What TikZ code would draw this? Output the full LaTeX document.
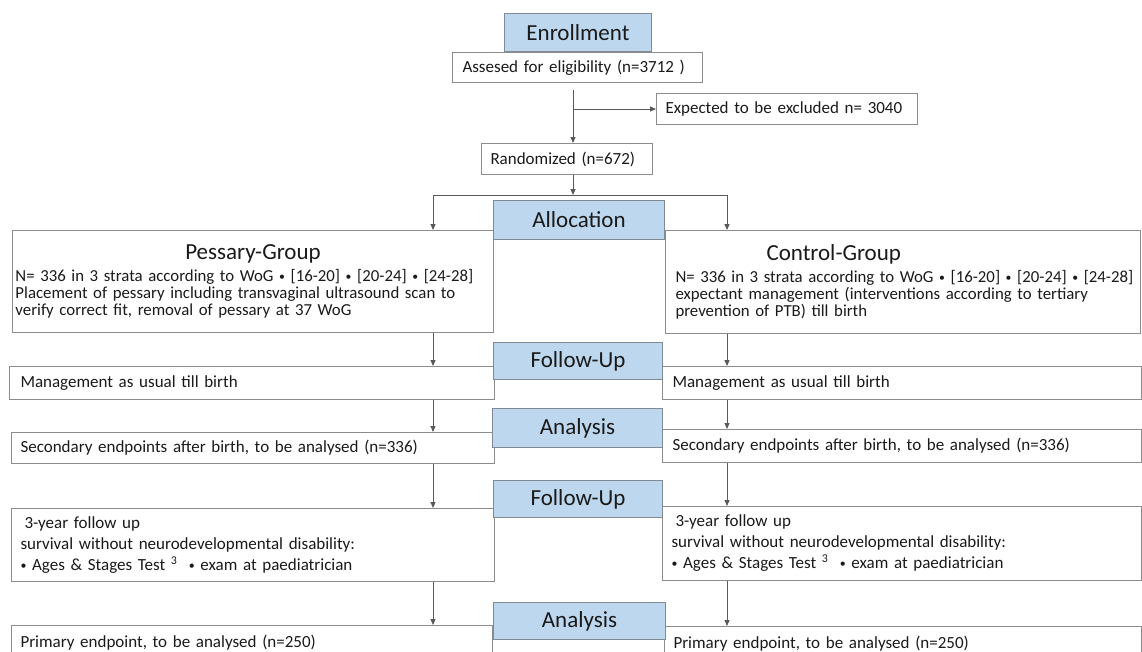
\documentclass[tikz,border=0pt]{standalone}
\usepackage{fontspec}
\usepackage{graphicx}
\setmainfont{Carlito}
\usetikzlibrary{arrows.meta}
\definecolor{bluefill}{HTML}{BDD7EE}
\definecolor{bluegray}{HTML}{7F8A94}
\definecolor{lineg}{HTML}{595959}
\definecolor{boxg}{HTML}{8C8C8C}
\definecolor{txt}{HTML}{1A1A1A}
\newcommand\gtitle{\fontsize{23}{26}\selectfont}
\newcommand\sbul{\raisebox{0.12ex}{\scalebox{0.7}{•}}}
\begin{document}
\begin{tikzpicture}[x=1pt,y=-1pt,
  wbox/.style={draw=boxg, line width=1pt, fill=white, rectangle, anchor=north west,
    inner xsep=10pt, inner ysep=0pt, align=left, text=txt,
    font=\fontsize{17}{21}\selectfont},
  bbox/.style={draw=bluegray, line width=1pt, fill=bluefill, rectangle, anchor=north west,
    inner sep=0pt, text=txt, font=\fontsize{23}{26}\selectfont},
  arr/.style={draw=lineg, line width=0.9pt, -{Triangle[length=6pt,width=5pt]}},
  ln/.style={draw=lineg, line width=0.9pt}]
\useasboundingbox (0,0) rectangle (1142,651);
\clip (0,0) rectangle (1142,651);

% white boxes
\node[wbox, inner xsep=10pt, text width=230pt, minimum height=30pt] (assess) at (452,52) {Assesed for eligibility (n=3712 )};
\node[wbox, inner xsep=9pt, text width=243pt, minimum height=31pt] (excl) at (656,93) {Expected to be excluded n= 3040};
\node[wbox, inner xsep=9pt, text width=153pt, minimum height=31pt] (rand) at (481,143) {Randomized (n=672)};

\node[wbox, inner xsep=3pt, text width=475pt, minimum height=102pt,
      font=\fontsize{16.8}{17}\selectfont] (pess) at (12,230)
  {\makebox[\linewidth][c]{\gtitle Pessary-Group}\\[5pt]
   \mbox{N= 336 in 3 strata according to WoG \sbul\ [16-20] \sbul\ [20-24] \sbul\ [24-28]}\\
   \mbox{Placement of pessary including transvaginal ultrasound scan to}\\
   \mbox{verify correct fit, removal of pessary at 37 WoG}};
\node[wbox, inner xsep=10pt, text width=455pt, minimum height=103pt,
      font=\fontsize{16.8}{17}\selectfont] (ctrl) at (665,230)
  {\makebox[\linewidth][l]{\hspace{91pt}\gtitle Control-Group}\\[5pt]
   \mbox{N= 336 in 3 strata according to WoG \sbul\ [16-20] \sbul\ [20-24] \sbul\ [24-28]}\\
   \mbox{expectant management (interventions according to tertiary}\\
   \mbox{prevention of PTB) till birth}};

\node[wbox, inner xsep=11pt, text width=463pt, minimum height=33pt] (mgL) at (9,366) {Management as usual till birth};
\node[wbox, inner xsep=10pt, text width=459pt, minimum height=33pt] (mgR) at (662,366) {Management as usual till birth};
\node[wbox, inner xsep=9pt, text width=465pt, minimum height=31pt] (secL) at (11,432) {Secondary endpoints after birth, to be analysed (n=336)};
\node[wbox, inner xsep=10pt, text width=459pt, minimum height=33pt] (secR) at (662,429) {Secondary endpoints after birth, to be analysed (n=336)};
\node[wbox, inner xsep=9pt, text width=465pt, minimum height=73pt] (tyL) at (11,508)
  {\hspace*{4pt}3-year follow up\\
   survival without neurodevelopmental disability:\\
   \sbul\ Ages \& Stages Test \textsuperscript{3} \ \sbul\ exam at paediatrician};
\node[wbox, inner xsep=9pt, text width=461pt, minimum height=74pt] (tyR) at (662,506)
  {\hspace*{4pt}3-year follow up\\
   survival without neurodevelopmental disability:\\
   \sbul\ Ages \& Stages Test \textsuperscript{3} \ \sbul\ exam at paediatrician};
\node[wbox, inner xsep=9pt, text width=463pt, minimum height=34pt] (prL) at (11,625) {Primary endpoint, to be analysed (n=250)};
\node[wbox, inner xsep=9pt, text width=459pt, minimum height=34pt] (prR) at (664,626) {Primary endpoint, to be analysed (n=250)};

% blue stage boxes
\node[bbox, minimum width=147pt, minimum height=38pt] (enroll) at (504,13) {Enrollment};
\node[bbox, minimum width=171pt, minimum height=39pt] (alloc) at (493,200) {Allocation};
\node[bbox, minimum width=169pt, minimum height=37pt] (fu1) at (493,342) {Follow-Up};
\node[bbox, minimum width=170pt, minimum height=39pt] (an1) at (492,408) {Analysis};
\node[bbox, minimum width=169pt, minimum height=37pt] (fu2) at (493,480) {Follow-Up};
\node[bbox, minimum width=172pt, minimum height=37pt] (an2) at (493,602) {Analysis};

% connectors
\coordinate (c0) at (573,90);
\coordinate (jM) at (573,195);
\coordinate (jL) at (433,195);
\coordinate (jR) at (727,195);
\draw[arr] (c0) -- (c0 |- rand.north);
\draw[arr] (c0 |- excl.west) -- (excl.west);
\draw[arr] (c0 |- rand.south) -- (jM);
\draw[arr] (jM) -- (jL) -- (jL |- pess.north);
\draw[arr] (jM) -- (jR) -- (jR |- ctrl.north);

\draw[arr] (jL |- pess.south) -- (jL |- mgL.north);
\draw[arr] (jL |- mgL.south) -- (jL |- secL.north);
\draw[arr] (jL |- secL.south) -- (jL |- tyL.north);
\draw[arr] (jL |- tyL.south) -- (jL |- prL.north);

\draw[arr] (jR |- ctrl.south) -- (jR |- mgR.north);
\draw[arr] (jR |- mgR.south) -- (jR |- secR.north);
\draw[arr] (jR |- secR.south) -- (jR |- tyR.north);
\draw[arr] (jR |- tyR.south) -- (jR |- prR.north);
\end{tikzpicture}
\end{document}
